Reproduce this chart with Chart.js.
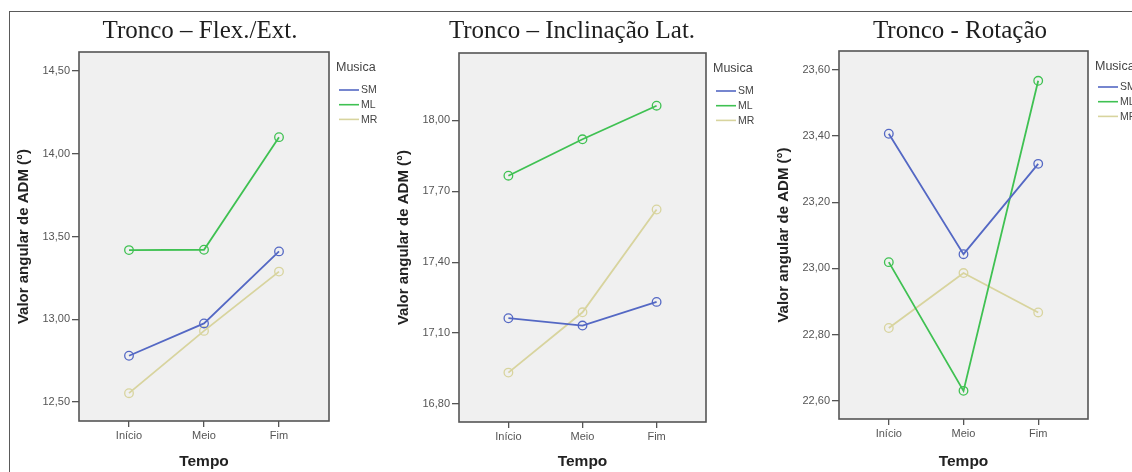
<!DOCTYPE html>
<html>
<head>
<meta charset="utf-8">
<script src="https://cdn.jsdelivr.net/npm/chart.js@4.4.1/dist/chart.umd.min.js"></script>
<style>
  html, body { margin: 0; padding: 0; background: #fff; }
  #wrap { position: relative; width: 1132px; height: 472px; overflow: hidden; background: #fff; }
  .panel { position: absolute; top: 0; height: 472px; }
  #frameTop { position: absolute; left: 9px; top: 11px; width: 1123px; height: 0; border-top: 1.5px solid #5a5a5a; }
  #frameLeft { position: absolute; left: 9px; top: 11px; width: 0; height: 461px; border-left: 1.5px solid #5a5a5a; }
</style>
</head>
<body>
<div id="wrap">
  <div id="frameTop"></div>
  <div id="frameLeft"></div>
  <div class="panel" style="left:0;width:380px"><canvas id="c1"></canvas></div>
  <div class="panel" style="left:380px;width:380px"><canvas id="c2"></canvas></div>
  <div class="panel" style="left:760px;width:372px"><canvas id="c3"></canvas></div>
</div>
<script>
// Time points and music groups
const tempo = ['Início', 'Meio', 'Fim'];
const grupos = ['SM', 'ML', 'MR'];

// Trunk flexion/extension (mean ROM, degrees)
const flexSM = [12.78, 12.975, 13.41];
const flexML = [13.418, 13.42, 14.10];
const flexMR = [12.554, 12.93, 13.288];
const flexTicks = [12.5, 13.0, 13.5, 14.0, 14.5];

// Trunk lateral inclination
const latSM = [17.163, 17.132, 17.232];
const latML = [17.766, 17.92, 18.062];
const latMR = [16.933, 17.188, 17.623];
const latTicks = [16.8, 17.1, 17.4, 17.7, 18.0];

// Trunk rotation
const rotSM = [23.407, 23.043, 23.316];
const rotML = [23.019, 22.630, 23.567];
const rotMR = [22.820, 22.986, 22.867];
const rotTicks = [22.6, 22.8, 23.0, 23.2, 23.4, 23.6];

const cores = { SM: '#5468c4', ML: '#3fc152', MR: '#d8d49e' };

function fmt(v) { return v.toFixed(2).replace('.', ','); }

const panelPlugin = {
  id: 'panelDeco',
  beforeDatasetsDraw(chart, args, opts) {
    const { ctx, chartArea: a } = chart;
    ctx.save();
    ctx.fillStyle = '#f0f0f0';
    ctx.fillRect(a.left, a.top, a.right - a.left, a.bottom - a.top);
    ctx.restore();
  },
  afterDatasetsDraw(chart, args, opts) {
    const { ctx, chartArea: a } = chart;
    ctx.save();
    ctx.strokeStyle = '#555';
    ctx.lineWidth = 1.6;
    ctx.strokeRect(a.left, a.top, a.right - a.left, a.bottom - a.top);
    ctx.restore();
  },
  afterDraw(chart, args, opts) {
    const { ctx, chartArea: a } = chart;
    ctx.save();
    // heading
    ctx.fillStyle = '#1e1e1e';
    ctx.font = '25px "Liberation Serif", "Times New Roman", serif';
    ctx.textAlign = 'center';
    ctx.textBaseline = 'middle';
    ctx.fillText(opts.title, opts.titleX, 31);
    // legend
    const lx = a.right + 7;
    ctx.textAlign = 'left';
    ctx.fillStyle = '#444';
    ctx.font = '12.5px "Liberation Sans", Arial, sans-serif';
    ctx.fillText('Musica', lx, a.top + 16);
    ctx.font = '10.5px "Liberation Sans", Arial, sans-serif';
    chart.data.datasets.forEach((ds, i) => {
      const y = a.top + opts.rowStart + i * 14.7;
      ctx.strokeStyle = ds.borderColor;
      ctx.lineWidth = 1.6;
      ctx.beginPath();
      ctx.moveTo(lx + 3, y);
      ctx.lineTo(lx + 23, y);
      ctx.stroke();
      ctx.fillStyle = '#444';
      ctx.fillText(ds.label, lx + 25, y + 0.5);
    });
    ctx.restore();
  }
};

function makePanel(id, cfg) {
  const series = [cfg.sm, cfg.ml, cfg.mr];
  const datasets = grupos.map((g, i) => ({
    label: g,
    data: series[i].map((v, k) => ({ x: k, y: v })),
    borderColor: cores[g],
    backgroundColor: 'rgba(0,0,0,0)',
    pointBackgroundColor: 'rgba(0,0,0,0)',
    pointBorderColor: cores[g],
    pointRadius: 4.3,
    pointBorderWidth: 1.3,
    borderWidth: 1.8,
    tension: 0
  }));
  const tickFont = { family: '"Liberation Sans", Arial, sans-serif', size: 11 };
  return new Chart(document.getElementById(id), {
    type: 'line',
    data: { datasets },
    plugins: [panelPlugin],
    options: {
      responsive: true,
      maintainAspectRatio: false,
      animation: false,
      events: [],
      layout: { padding: { left: 0, top: cfg.top, right: cfg.right, bottom: 0 } },
      plugins: {
        legend: { display: false },
        tooltip: { enabled: false },
        panelDeco: { title: cfg.title, titleX: cfg.titleX, rowStart: cfg.rowStart }
      },
      scales: {
        x: {
          type: 'linear',
          min: -2 / 3,
          max: 8 / 3,
          afterBuildTicks: s => { s.ticks = tempo.map((t, k) => ({ value: k })); },
          afterFit: s => { s.height = cfg.xh; },
          ticks: {
            callback: v => tempo[v],
            font: tickFont, color: '#555', padding: 2, maxRotation: 0, autoSkip: false
          },
          grid: { display: true, drawOnChartArea: false, drawTicks: true, tickLength: 6, color: '#555', lineWidth: 1.3 },
          border: { display: false },
          title: {
            display: true, text: 'Tempo', color: '#222',
            font: { family: '"Liberation Sans", Arial, sans-serif', size: 15.5, weight: 'bold' },
            padding: { top: 0, bottom: 1 }
          }
        },
        y: {
          type: 'linear',
          min: cfg.min,
          max: cfg.max,
          afterBuildTicks: s => { s.ticks = cfg.ticks.map(v => ({ value: v })); },
          afterFit: s => { s.width = 79; },
          ticks: { callback: v => fmt(v), font: tickFont, color: '#555', padding: 2 },
          grid: { display: true, drawOnChartArea: false, drawTicks: true, tickLength: 7, color: '#555', lineWidth: 1.3 },
          border: { display: false },
          title: {
            display: true, text: 'Valor angular de ADM (°)', color: '#222',
            font: { family: '"Liberation Sans", Arial, sans-serif', size: 15, weight: 'bold' },
            padding: { top: 15, bottom: 0 }
          }
        }
      }
    }
  });
}

makePanel('c1', {
  sm: flexSM, ml: flexML, mr: flexMR, ticks: flexTicks,
  min: 12.386, max: 14.614, top: 52, right: 51, xh: 51,
  title: 'Tronco – Flex./Ext.', titleX: 200, rowStart: 38
});
makePanel('c2', {
  sm: latSM, ml: latML, mr: latMR, ticks: latTicks,
  min: 16.724, max: 18.285, top: 53, right: 54, xh: 50,
  title: 'Tronco – Inclinação Lat.', titleX: 192, rowStart: 38
});
makePanel('c3', {
  sm: rotSM, ml: rotML, mr: rotMR, ticks: rotTicks,
  min: 22.545, max: 23.657, top: 51, right: 44, xh: 53,
  title: 'Tronco - Rotação', titleX: 200, rowStart: 36
});
</script>
</body>
</html>
